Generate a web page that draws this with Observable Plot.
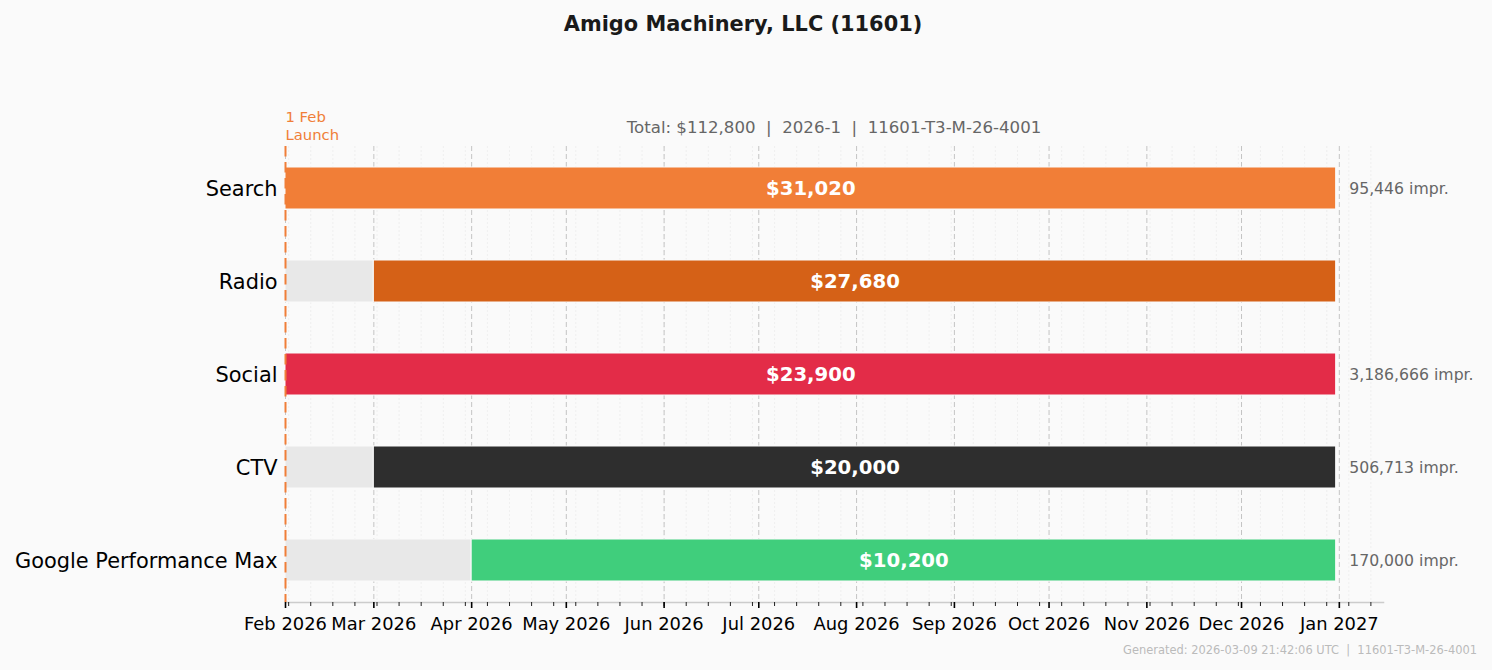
<!DOCTYPE html>
<html>
<head>
<meta charset="utf-8">
<script src="https://cdn.jsdelivr.net/npm/d3@7"></script>
<script src="https://cdn.jsdelivr.net/npm/@observablehq/plot@0.6"></script>
<style>
  html, body { margin: 0; padding: 0; background: #FAFAFA; }
  body { width: 1492px; height: 670px; position: relative; overflow: hidden; font-family: "DejaVu Sans", sans-serif; }
  #chart { position: absolute; left: 0; top: 0; }
  .txt { position: absolute; white-space: nowrap; line-height: 1; }
  #title { left: 0; width: 1486px; top: 14px; text-align: center; font-weight: bold; font-size: 20.9px; color: #1a1a1a; }
  #subtitle { left: 285px; width: 1098px; top: 120px; text-align: center; font-size: 16.6px; color: #666; }
  #footer { right: 15px; top: 645px; font-size: 11.45px; color: #bbb; }
</style>
</head>
<body>
<div id="chart"></div>
<div class="txt" id="title">Amigo Machinery, LLC (11601)</div>
<div class="txt" id="subtitle">Total: $112,800&nbsp; |&nbsp; 2026-1&nbsp; |&nbsp; 11601-T3-M-26-4001</div>
<div class="txt" id="footer">Generated: 2026-03-09 21:42:06 UTC&nbsp; |&nbsp; 11601-T3-M-26-4001</div>
<script>
const channels = ["Search", "Radio", "Social", "CTV", "Google Performance Max"];
const starts = ["2026-02-01", "2026-03-01", "2026-02-01", "2026-03-01", "2026-04-01"];
const ends = ["2026-12-31", "2026-12-31", "2026-12-31", "2026-12-31", "2026-12-31"];
const budgets = [31020, 27680, 23900, 20000, 10200];
const impressions = [95446, null, 3186666, 506713, 170000];
const colors = ["#F17E37", "#D56117", "#E32C48", "#2E2E2E", "#40CE7C"];
const flightStart = "2026-02-01";
const axisEnd = "2027-01-15";
const launchLabel = "1 Feb\nLaunch";

const rows = channels.map((c, i) => ({
  channel: c,
  start: new Date(starts[i]),
  end: new Date(ends[i]),
  budget: budgets[i],
  impr: impressions[i],
  color: colors[i]
}));
const t0 = new Date(flightStart);
const t1 = new Date(axisEnd);
const months = d3.utcMonth.range(t0, t1);
const mondays = d3.utcMonday.range(t0, t1);
const fmt = d3.format(",");

const chart = Plot.plot({
  width: 1492,
  height: 670,
  marginLeft: 285,
  marginRight: 109,
  marginTop: 146,
  marginBottom: 68,
  style: { background: "transparent", fontFamily: "DejaVu Sans, sans-serif", color: "#000" },
  x: { type: "utc", domain: [t0, t1], label: null },
  y: { type: "band", domain: channels, paddingInner: 0.547, paddingOuter: 0.215, label: null },
  color: { type: "identity" },
  marks: [
    Plot.gridX(mondays, { stroke: "#ececec", strokeOpacity: 1, strokeWidth: 0.8, strokeDasharray: "2,2" }),
    Plot.gridX(months, { stroke: "#c4c4c4", strokeOpacity: 1, strokeWidth: 1, strokeDasharray: "5,3" }),
    Plot.barX(rows.filter(d => d.start > t0), { x1: () => t0, x2: "start", y: "channel", fill: "#E8E8E8", stroke: "#FAFAFA", strokeWidth: 1 }),
    Plot.barX(rows, { x1: "start", x2: "end", y: "channel", fill: "color", stroke: "#FAFAFA", strokeWidth: 1 }),
    Plot.text(rows, {
      x: d => new Date((+d.start + +d.end) / 2), y: "channel",
      text: d => "$" + fmt(d.budget), fill: "white", fontWeight: "bold", fontSize: 19.7
    }),
    Plot.text(rows.filter(d => d.impr != null), {
      x: "end", y: "channel", text: d => fmt(d.impr) + " impr.",
      dx: 13, textAnchor: "start", fill: "#666", fontSize: 15.7
    }),
    Plot.frame({ anchor: "bottom", stroke: "#cccccc", strokeWidth: 1.5 }),
    Plot.ruleX([t0], { stroke: "#F07E38", strokeWidth: 2, strokeDasharray: "10.5,5.5" }),
    Plot.text([launchLabel], {
      x: () => t0, frameAnchor: "top", dy: -7, lineAnchor: "bottom", textAnchor: "start",
      fill: "#F07E38", fontSize: 14.8, lineHeight: 1.2
    }),
    Plot.axisX({ ticks: mondays, tickFormat: () => "", tickSize: 4, strokeWidth: 1, stroke: "#222" }),
    Plot.axisX({ ticks: months, tickFormat: d3.utcFormat("%b %Y"), tickSize: 6, tickPadding: 9, strokeWidth: 1.6, stroke: "#000", fontSize: 17.9, fill: "#000" }),
    Plot.axisY({ tickSize: 0, tickPadding: 8, fontSize: 20.9, fill: "#000", dy: 1 })
  ]
});
document.getElementById("chart").appendChild(chart);
</script>
</body>
</html>
